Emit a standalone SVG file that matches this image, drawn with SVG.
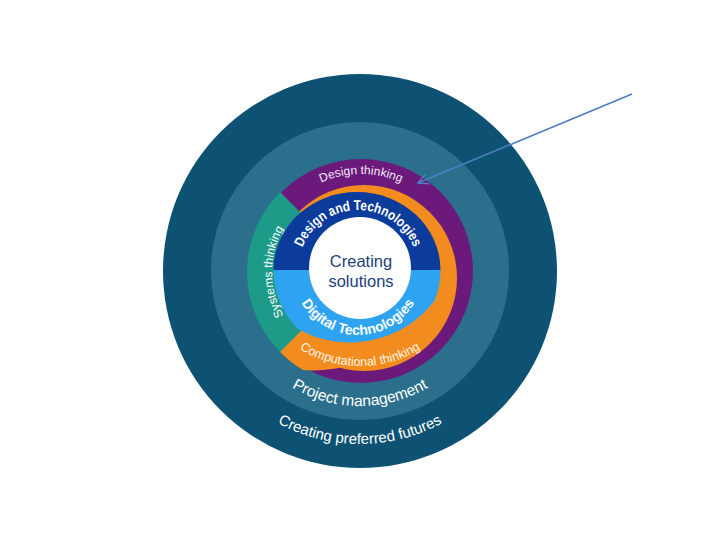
<svg xmlns="http://www.w3.org/2000/svg" width="720" height="540" viewBox="0 0 720 540">
  <defs>
    <style>
      .lbl { font-family: "Liberation Sans", Arial, sans-serif; fill: #ffffff; }
      .bold { font-weight: bold; }
    </style>
    <marker id="arrowhead" viewBox="0 0 12 12" refX="11" refY="6" markerWidth="12" markerHeight="12" markerUnits="userSpaceOnUse" orient="auto">
      <path d="M1,1 L11,6 L1,11" fill="none" stroke="#4f7dbf" stroke-width="1.6"/>
    </marker>
    <path id="p-futures" d="M188,272 A172,172 0 0 0 532,272"/>
    <path id="p-pm" d="M226,272 A134,134 0 0 0 494,272"/>
    <path id="p-dthink" d="M264,271 A97,97 0 0 1 458,271"/>
    <path id="p-sthink" d="M297.8,334.2 A88,88 0 0 1 297.8,209.8"/>
    <path id="p-cthink" d="M244,250 A116,116 0 0 0 476,250"/>
    <path id="p-dt" d="M298,270 A60,60 0 0 1 418,270"/>
    <path id="p-digi" d="M292,269 A66,66 0 0 0 424,269"/>
  </defs>
  <rect width="720" height="540" fill="#ffffff"/>

  <g id="ring-futures">
    <circle cx="360" cy="271" r="197" fill="#0e5273"/>
    <text class="lbl" font-size="15"><textPath href="#p-futures" startOffset="50%" text-anchor="middle">Creating preferred futures</textPath></text>
  </g>

  <g id="ring-project">
    <circle cx="360" cy="271" r="149" fill="#2b6f8c"/>
    <text class="lbl" font-size="15.5"><textPath href="#p-pm" startOffset="50%" text-anchor="middle">Project management</textPath></text>
  </g>

  <g id="design-thinking">
    <circle cx="361" cy="271" r="112" fill="#6b1a7b"/>
    <text class="lbl" font-size="12" style="fill:#f6e8f6"><textPath href="#p-dthink" startOffset="50%" text-anchor="middle">Design thinking</textPath></text>
  </g>

  <g id="computational-thinking">
    <circle cx="364" cy="278" r="93" fill="#f28c1e"/>
    <path d="M300,300 L280.1,351.9 A113,113 0 0 0 303,370 Q318,371.5 340,367.8 L340,300 Z" fill="#f28c1e"/>
  </g>

  <g id="systems-thinking">
    <path d="M360,272 L280.1,192.1 A113,113 0 0 0 280.1,351.9 Z" fill="#1e9a89"/>
    <text class="lbl" font-size="12"><textPath href="#p-sthink" startOffset="50%" text-anchor="middle">Systems thinking</textPath></text>
  </g>

  <g id="design-technologies">
    <path d="M273.5,270 A83.5,78 0 0 1 440.5,270 Z" fill="#0b3c9c"/>
    <text class="lbl bold" font-size="14"><textPath href="#p-dt" startOffset="50%" text-anchor="middle" textLength="142" lengthAdjust="spacingAndGlyphs">Design and Technologies</textPath></text>
  </g>

  <g id="digital-technologies">
    <path d="M273.5,270 A83.5,83.5 0 0 0 297.7,328.8 A106.5,106.5 0 0 0 434.7,300.6 A83.5,83.5 0 0 0 440.5,270 Z" fill="#2ea3f2"/>
    <text class="lbl bold" font-size="14"><textPath href="#p-digi" startOffset="50%" text-anchor="middle">Digital Technologies</textPath></text>
  </g>

  <g id="computational-label">
    <text class="lbl" font-size="12.5" style="fill:#fff4e4"><textPath href="#p-cthink" startOffset="50%" text-anchor="middle">Computational thinking</textPath></text>
  </g>

  <g id="creating-solutions">
    <circle cx="360" cy="268" r="51" fill="#ffffff"/>
    <text class="lbl" font-size="16.5" text-anchor="middle" style="fill:#1d3f7d"><tspan x="361" y="267">Creating</tspan><tspan x="361" y="287">solutions</tspan></text>
  </g>

  <g id="connectors">
    <line x1="632" y1="94" x2="418" y2="183" stroke="#4f7dbf" stroke-width="1.6" marker-end="url(#arrowhead)"/>
  </g>
</svg>
